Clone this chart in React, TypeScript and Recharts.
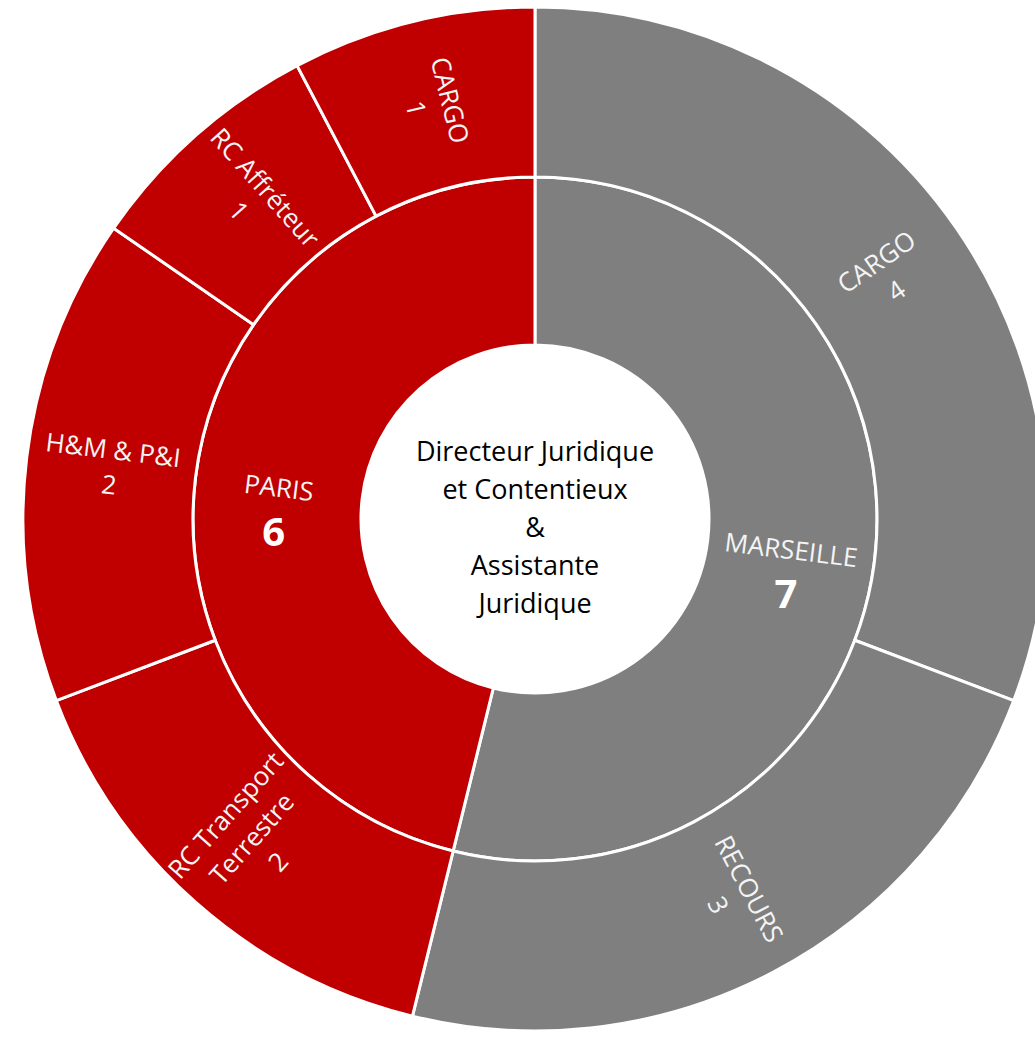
import { Cell, Label, Pie, PieChart } from 'recharts';

const cities = ['MARSEILLE', 'PARIS'];
const cityCounts = [7, 6];

// outer ring, clockwise from 12 o'clock
const teams = ['CARGO', 'RECOURS', 'RC Transport\nTerrestre', 'H&M & P&I', 'RC Affréteur', 'CARGO'];
const teamCounts = [4, 3, 2, 2, 1, 1];
const teamCity = ['MARSEILLE', 'MARSEILLE', 'PARIS', 'PARIS', 'PARIS', 'PARIS'];

const centerLines = ['Directeur Juridique', 'et Contentieux', '&', 'Assistante', 'Juridique'];

const COLORS: Record<string, string> = { MARSEILLE: '#7F7F7F', PARIS: '#C00000' };
const FONT = '"Open Sans", sans-serif';
const RAD = Math.PI / 180;

const cityData = cities.map((name, i) => ({ name, value: cityCounts[i] }));
const teamData = teams.map((name, i) => ({ name, value: teamCounts[i], city: teamCity[i] }));

function radialRotation(midAngle: number) {
  let rot = 180 - midAngle;
  while (rot > 90) rot -= 180;
  while (rot <= -90) rot += 180;
  return rot;
}

function anchor(p: any) {
  const r = (p.innerRadius + p.outerRadius) / 2;
  return {
    x: p.cx + r * Math.cos(-p.midAngle * RAD),
    y: p.cy + r * Math.sin(-p.midAngle * RAD),
  };
}

function TeamLabel(p: any) {
  const { x, y } = anchor(p);
  const rot = radialRotation(p.midAngle);
  const lines = [...teams[p.index].split('\n'), String(teamCounts[p.index])];
  const lh = 35;
  const top = -((lines.length - 1) * lh) / 2;
  return (
    <text
      x={x}
      y={y}
      transform={`rotate(${rot} ${x} ${y})`}
      textAnchor="middle"
      fill="#F4F4F4"
      fontSize={26}
      fontFamily={FONT}
    >
      {lines.map((l, i) => (
        <tspan key={i} x={x} y={y + top + i * lh} dy="0.35em">
          {l}
        </tspan>
      ))}
    </text>
  );
}

function CityLabel(p: any) {
  const { x, y } = anchor(p);
  const rot = radialRotation(p.midAngle);
  const nx = x - 44 * Math.sin(rot * RAD);
  const ny = y + 44 * Math.cos(rot * RAD);
  return (
    <g>
      <text
        x={x}
        y={y}
        dy="0.35em"
        transform={`rotate(${rot} ${x} ${y})`}
        textAnchor="middle"
        fill="#F4F4F4"
        fontSize={26}
        fontFamily={FONT}
      >
        {cities[p.index]}
      </text>
      <text x={nx} y={ny} dy="0.36em" textAnchor="middle" fill="#FFFFFF" fontSize={40} fontWeight={700} fontFamily={FONT}>
        {cityCounts[p.index]}
      </text>
    </g>
  );
}

function CenterText(props: any) {
  const vb = props.viewBox || {};
  const cx = vb.cx ?? 535;
  const cy = vb.cy ?? 519;
  const lh = 38;
  const top = cy + 9 - ((centerLines.length - 1) * lh) / 2;
  return (
    <text textAnchor="middle" fill="#000000" fontSize={27} fontFamily={FONT}>
      {centerLines.map((l, i) => (
        <tspan key={i} x={cx} y={top + i * lh} dy="0.35em">
          {l}
        </tspan>
      ))}
    </text>
  );
}

export default function App() {
  return (
    <div style={{ position: 'absolute', left: 0, top: 0, width: 1035, height: 1037, background: '#fff' }}>
      <PieChart width={1035} height={1037} margin={{ top: 0, right: 0, bottom: 0, left: 0 }}>
        <Pie
          data={cityData}
          dataKey="value"
          nameKey="name"
          cx={535}
          cy={519}
          innerRadius={174}
          outerRadius={342}
          startAngle={90}
          endAngle={-270}
          stroke="#FFFFFF"
          strokeWidth={3}
          label={CityLabel}
          labelLine={false}
          isAnimationActive={false}
        >
          {cityData.map((d) => (
            <Cell key={d.name} fill={COLORS[d.name]} />
          ))}
          <Label position="center" content={CenterText} />
        </Pie>
        <Pie
          data={teamData}
          dataKey="value"
          nameKey="name"
          cx={535}
          cy={519}
          innerRadius={342}
          outerRadius={512}
          startAngle={90}
          endAngle={-270}
          stroke="#FFFFFF"
          strokeWidth={3}
          label={TeamLabel}
          labelLine={false}
          isAnimationActive={false}
        >
          {teamData.map((d, i) => (
            <Cell key={i} fill={COLORS[d.city]} />
          ))}
        </Pie>
      </PieChart>
    </div>
  );
}
